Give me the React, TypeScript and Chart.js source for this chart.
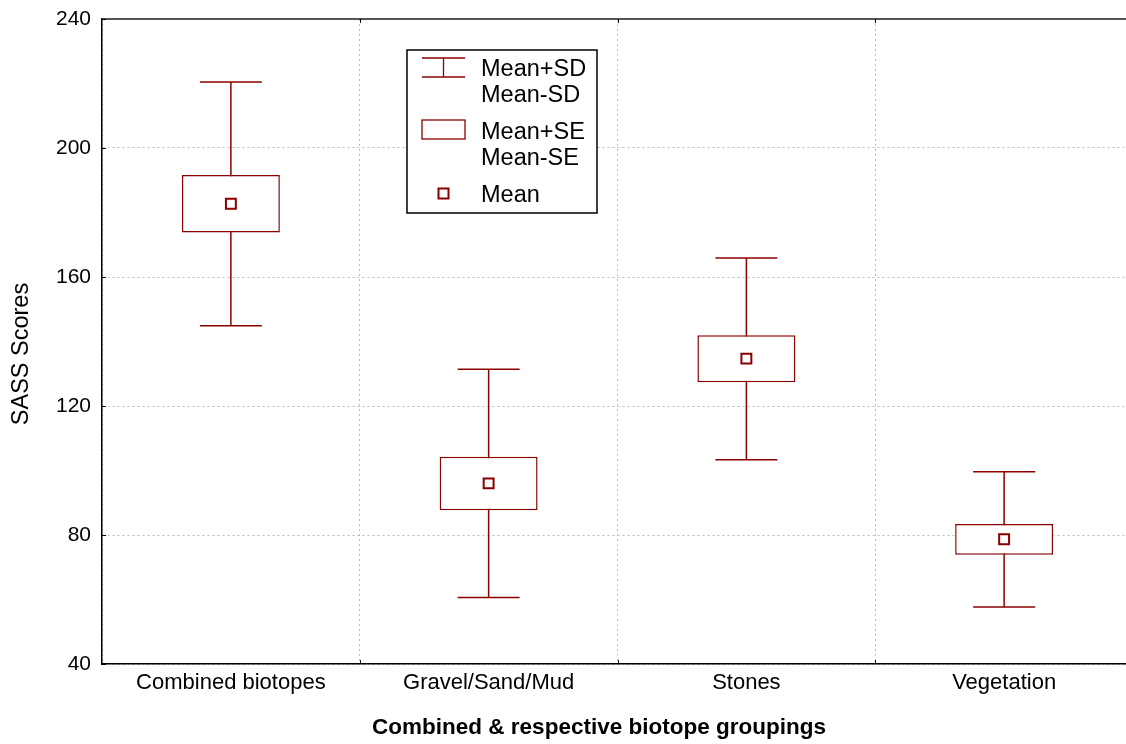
import React, { useEffect, useRef } from 'react';
import { Chart, registerables } from 'chart.js';

Chart.register(...registerables);

const categories = ['Combined biotopes', 'Gravel/Sand/Mud', 'Stones', 'Vegetation'];
const means = [182.7, 96.0, 134.7, 78.7];
const seHigh = [191.6, 104.3, 141.9, 83.4];
const seLow = [173.8, 87.7, 127.4, 73.9];
const sdHigh = [220.5, 131.4, 165.9, 99.6];
const sdLow = [144.9, 60.6, 103.3, 57.7];
const yTicks = [40, 80, 120, 160, 200, 240];
const legendLabels = ['Mean+SD', 'Mean-SD', 'Mean+SE', 'Mean-SE', 'Mean'];
const xTitle = 'Combined & respective biotope groupings';
const yTitle = 'SASS Scores';

const FONT = "'Liberation Sans', Arial, Helvetica, sans-serif";
const MAROON = '#8b0000';
const CANVAS_W = 1180;
const CANVAS_H = 744;
const AREA = { left: 102, top: 19, right: 1133, bottom: 664 };

const overlay = {
  id: 'overlay',
  afterDraw(chart: any) {
    const { ctx, chartArea: a, scales } = chart;
    const line = (x1: number, y1: number, x2: number, y2: number) => {
      ctx.beginPath();
      ctx.moveTo(x1, y1);
      ctx.lineTo(x2, y2);
      ctx.stroke();
    };
    ctx.save();
    ctx.strokeStyle = '#555';
    ctx.lineWidth = 2;
    line(a.left, a.top, a.right, a.top);
    ctx.strokeStyle = '#000';
    ctx.lineWidth = 1;
    yTicks.forEach((v) => {
      const y = Math.round(scales.y.getPixelForValue(v)) + 0.5;
      line(a.left, y, a.left + 4, y);
    });
    for (let i = 0; i < categories.length - 1; i++) {
      const x = Math.round((scales.x.getPixelForValue(i) + scales.x.getPixelForValue(i + 1)) / 2) + 0.5;
      line(x, a.bottom, x, a.bottom - 4);
      line(x, a.top, x, a.top + 4);
    }
    ctx.fillStyle = '#000';
    ctx.font = `bold 22.5px ${FONT}`;
    ctx.textAlign = 'center';
    ctx.textBaseline = 'alphabetic';
    ctx.fillText(xTitle, 599, 734);
    ctx.save();
    ctx.translate(22, 354);
    ctx.rotate(-Math.PI / 2);
    ctx.font = `23.5px ${FONT}`;
    ctx.textBaseline = 'middle';
    ctx.fillText(yTitle, 0, 0);
    ctx.restore();
    const lx = 407, ly = 50, lw = 190, lh = 163;
    ctx.fillStyle = '#fff';
    ctx.fillRect(lx, ly, lw, lh);
    ctx.strokeStyle = '#000';
    ctx.lineWidth = 1.5;
    ctx.strokeRect(lx, ly, lw, lh);
    ctx.strokeStyle = MAROON;
    ctx.lineWidth = 1.3;
    line(422, 58, 465, 58);
    line(422, 77, 465, 77);
    line(443.5, 58, 443.5, 77);
    ctx.strokeRect(422, 120, 43, 19);
    ctx.lineWidth = 2;
    ctx.fillStyle = '#fff';
    ctx.fillRect(438.5, 188.5, 10, 10);
    ctx.strokeRect(438.5, 188.5, 10, 10);
    ctx.fillStyle = '#000';
    ctx.font = `23.5px ${FONT}`;
    ctx.textAlign = 'left';
    ctx.textBaseline = 'alphabetic';
    const baselines = [76, 102, 139, 165, 202];
    legendLabels.forEach((t, i) => ctx.fillText(t, 481, baselines[i]));
    ctx.restore();
  },
};

export default function App() {
  const ref = useRef<HTMLCanvasElement>(null);
  useEffect(() => {
    document.body.style.overflow = 'hidden';
    const padding = { top: 19, right: 47, bottom: 0, left: 0 };
    const chart = new Chart(ref.current as HTMLCanvasElement, {
      type: 'bar',
      data: {
        labels: categories,
        datasets: [
          {
            type: 'line',
            label: 'Mean',
            data: means,
            showLine: false,
            pointStyle: 'rect',
            pointRadius: 7,
            pointBackgroundColor: '#fff',
            pointBorderColor: MAROON,
            pointBorderWidth: 2,
            order: 0,
          } as any,
          {
            type: 'bar',
            label: 'SE',
            data: seLow.map((v, i) => [v, seHigh[i]]),
            backgroundColor: '#fff',
            borderColor: MAROON,
            borderWidth: 1.5,
            borderSkipped: false,
            grouped: false,
            categoryPercentage: 1,
            barPercentage: 0.38,
            order: 1,
          } as any,
          {
            type: 'line',
            label: 'SD high',
            data: sdHigh,
            showLine: false,
            pointStyle: 'line',
            pointRadius: 31,
            pointBorderColor: MAROON,
            pointBorderWidth: 1.5,
            order: 2,
          } as any,
          {
            type: 'line',
            label: 'SD low',
            data: sdLow,
            showLine: false,
            pointStyle: 'line',
            pointRadius: 31,
            pointBorderColor: MAROON,
            pointBorderWidth: 1.5,
            order: 2,
          } as any,
          {
            type: 'bar',
            label: 'SD',
            data: sdLow.map((v, i) => [v, sdHigh[i]]),
            backgroundColor: MAROON,
            borderWidth: 0,
            grouped: false,
            categoryPercentage: 1,
            barPercentage: 0.01,
            maxBarThickness: 1.5,
            order: 3,
          } as any,
        ],
      },
      options: {
        animation: false,
        responsive: false,
        devicePixelRatio: 1,
        events: [],
        layout: { padding, autoPadding: false },
        plugins: { legend: { display: false }, tooltip: { enabled: false } },
        scales: {
          x: {
            type: 'category',
            offset: true,
            grid: { offset: true, color: '#bbbbbb', lineWidth: 1, drawTicks: false },
            border: { display: true, color: '#000', width: 1.5, dash: [2, 3] },
            ticks: { color: '#000', font: { family: FONT, size: 22 }, padding: 6, maxRotation: 0 },
            afterFit: (s: any) => {
              s.height = 80;
              s.paddingLeft = 0;
              s.paddingRight = 0;
            },
          },
          y: {
            type: 'linear',
            min: 40,
            max: 240,
            afterBuildTicks: (s: any) => { s.ticks = yTicks.map((v) => ({ value: v })); },
            grid: { color: '#bbbbbb', lineWidth: 1, drawTicks: false },
            border: { display: true, color: '#000', width: 1.5, dash: [2, 3] },
            ticks: { color: '#000', font: { family: FONT, size: 21, lineHeight: 0.05 }, padding: 11 },
            afterFit: (s: any) => {
              s.width = 102;
              s.paddingTop = 0;
              s.paddingBottom = 0;
            },
          },
        },
      } as any,
      plugins: [overlay],
    });
    for (let k = 0; k < 4; k++) {
      const a = chart.chartArea;
      const dt = a.top - AREA.top;
      const dr = a.right - AREA.right;
      if (Math.abs(dt) < 0.3 && Math.abs(dr) < 0.3) break;
      padding.top = Math.max(0, padding.top - dt);
      padding.right = Math.max(0, padding.right + dr);
      (chart.options as any).layout.padding = { ...padding };
      chart.update();
    }
    return () => chart.destroy();
  }, []);
  return (
    <div style={{ position: 'fixed', left: 0, top: 0, width: CANVAS_W, height: CANVAS_H, background: '#fff' }}>
      <canvas ref={ref} width={CANVAS_W} height={CANVAS_H} style={{ display: 'block' }} />
    </div>
  );
}
